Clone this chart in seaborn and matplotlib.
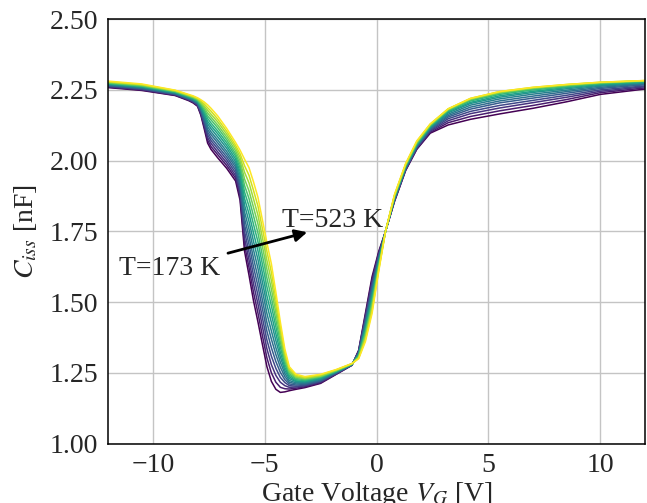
import numpy as np
import pandas as pd
import matplotlib
matplotlib.use("Agg")
import matplotlib.pyplot as plt
import seaborn as sns

# Gate voltage sample points [V]
vg = [-12, -10.5, -9, -8.4, -8.2, -8.0, -7.85, -7.7, -7.55, -7.4, -7.1, -6.7, -6.3,
      -6.1, -5.9, -5.7, -5.5, -5.3, -5.1, -4.9, -4.7, -4.5, -4.3, -4.1, -3.9, -3.6,
      -3.2, -2.5, -1.8, -1.1, -0.8, -0.5, -0.2, 0.1, 0.4, 0.8, 1.3, 1.8, 2.4, 3.2,
      4.2, 5.5, 7.0, 8.5, 10.0, 12.0]

temperatures = [173, 198, 223, 248, 273, 298, 323, 348, 373, 398, 423, 448, 473, 498, 523]

c173 = [2.258, 2.248, 2.230, 2.212, 2.204, 2.192, 2.160, 2.112, 2.062, 2.040, 2.010, 1.973, 1.928, 1.860, 1.680, 1.595, 1.505, 1.430, 1.350, 1.272, 1.220, 1.192, 1.181, 1.183, 1.187, 1.192, 1.198, 1.213, 1.245, 1.277, 1.330, 1.460, 1.590, 1.680, 1.750, 1.855, 1.965, 2.040, 2.097, 2.126, 2.146, 2.165, 2.185, 2.208, 2.234, 2.253]
c198 = [2.260, 2.250, 2.231, 2.214, 2.206, 2.194, 2.164, 2.119, 2.072, 2.050, 2.021, 1.983, 1.938, 1.873, 1.703, 1.622, 1.535, 1.461, 1.381, 1.303, 1.250, 1.217, 1.199, 1.194, 1.193, 1.196, 1.201, 1.215, 1.246, 1.277, 1.328, 1.453, 1.581, 1.675, 1.750, 1.857, 1.967, 2.042, 2.100, 2.134, 2.156, 2.176, 2.195, 2.216, 2.240, 2.257]
c223 = [2.261, 2.251, 2.233, 2.215, 2.208, 2.196, 2.168, 2.126, 2.081, 2.061, 2.031, 1.993, 1.947, 1.885, 1.726, 1.649, 1.565, 1.493, 1.413, 1.335, 1.279, 1.241, 1.217, 1.205, 1.199, 1.200, 1.204, 1.218, 1.247, 1.278, 1.326, 1.446, 1.571, 1.670, 1.750, 1.859, 1.969, 2.044, 2.104, 2.141, 2.166, 2.186, 2.205, 2.224, 2.245, 2.261]
c248 = [2.263, 2.253, 2.234, 2.217, 2.209, 2.198, 2.172, 2.132, 2.091, 2.071, 2.042, 2.003, 1.957, 1.898, 1.750, 1.676, 1.595, 1.524, 1.444, 1.366, 1.309, 1.266, 1.234, 1.216, 1.205, 1.203, 1.206, 1.220, 1.249, 1.278, 1.324, 1.439, 1.562, 1.665, 1.750, 1.860, 1.970, 2.046, 2.107, 2.148, 2.174, 2.195, 2.213, 2.231, 2.250, 2.264]
c273 = [2.265, 2.255, 2.235, 2.218, 2.211, 2.201, 2.176, 2.139, 2.101, 2.081, 2.052, 2.013, 1.967, 1.911, 1.773, 1.704, 1.625, 1.556, 1.476, 1.397, 1.339, 1.290, 1.252, 1.226, 1.211, 1.207, 1.209, 1.222, 1.250, 1.279, 1.321, 1.431, 1.553, 1.660, 1.750, 1.862, 1.972, 2.049, 2.110, 2.154, 2.182, 2.204, 2.221, 2.238, 2.255, 2.268]
c298 = [2.266, 2.256, 2.237, 2.220, 2.213, 2.203, 2.180, 2.146, 2.110, 2.092, 2.063, 2.023, 1.977, 1.923, 1.796, 1.731, 1.655, 1.587, 1.507, 1.428, 1.369, 1.315, 1.270, 1.237, 1.217, 1.211, 1.212, 1.224, 1.251, 1.279, 1.319, 1.424, 1.544, 1.655, 1.750, 1.864, 1.974, 2.051, 2.113, 2.159, 2.189, 2.211, 2.228, 2.244, 2.259, 2.271]
c323 = [2.268, 2.258, 2.238, 2.221, 2.215, 2.205, 2.184, 2.153, 2.120, 2.102, 2.073, 2.033, 1.986, 1.936, 1.819, 1.758, 1.685, 1.619, 1.539, 1.460, 1.398, 1.339, 1.288, 1.248, 1.223, 1.215, 1.215, 1.227, 1.252, 1.280, 1.317, 1.417, 1.534, 1.650, 1.750, 1.866, 1.976, 2.053, 2.115, 2.164, 2.196, 2.218, 2.235, 2.249, 2.263, 2.273]
c348 = [2.270, 2.260, 2.240, 2.223, 2.217, 2.207, 2.188, 2.160, 2.130, 2.113, 2.084, 2.044, 1.996, 1.949, 1.843, 1.785, 1.715, 1.650, 1.570, 1.491, 1.428, 1.364, 1.306, 1.259, 1.230, 1.219, 1.218, 1.229, 1.254, 1.280, 1.315, 1.410, 1.525, 1.645, 1.750, 1.868, 1.978, 2.055, 2.118, 2.169, 2.202, 2.224, 2.241, 2.254, 2.266, 2.276]
c373 = [2.271, 2.261, 2.241, 2.225, 2.218, 2.209, 2.191, 2.166, 2.139, 2.123, 2.095, 2.054, 2.006, 1.961, 1.866, 1.812, 1.745, 1.681, 1.601, 1.522, 1.457, 1.388, 1.323, 1.270, 1.236, 1.222, 1.220, 1.231, 1.255, 1.280, 1.313, 1.403, 1.516, 1.640, 1.750, 1.869, 1.979, 2.057, 2.120, 2.173, 2.206, 2.229, 2.245, 2.258, 2.269, 2.277]
c398 = [2.273, 2.263, 2.242, 2.226, 2.220, 2.211, 2.195, 2.173, 2.149, 2.133, 2.105, 2.064, 2.016, 1.974, 1.889, 1.839, 1.775, 1.713, 1.633, 1.554, 1.487, 1.413, 1.341, 1.281, 1.242, 1.226, 1.223, 1.234, 1.256, 1.281, 1.311, 1.396, 1.506, 1.635, 1.750, 1.871, 1.981, 2.059, 2.122, 2.176, 2.211, 2.234, 2.250, 2.261, 2.272, 2.279]
c423 = [2.274, 2.264, 2.244, 2.228, 2.222, 2.213, 2.199, 2.180, 2.158, 2.144, 2.116, 2.074, 2.025, 1.986, 1.912, 1.866, 1.805, 1.744, 1.664, 1.585, 1.516, 1.437, 1.359, 1.292, 1.248, 1.230, 1.226, 1.236, 1.257, 1.281, 1.309, 1.389, 1.497, 1.630, 1.750, 1.873, 1.983, 2.061, 2.124, 2.178, 2.214, 2.238, 2.253, 2.264, 2.273, 2.281]
c448 = [2.276, 2.266, 2.245, 2.229, 2.224, 2.216, 2.203, 2.187, 2.168, 2.154, 2.126, 2.084, 2.035, 1.999, 1.935, 1.893, 1.835, 1.776, 1.696, 1.616, 1.546, 1.462, 1.377, 1.302, 1.254, 1.234, 1.229, 1.238, 1.258, 1.282, 1.306, 1.381, 1.488, 1.625, 1.750, 1.875, 1.985, 2.064, 2.126, 2.180, 2.217, 2.240, 2.256, 2.266, 2.275, 2.282]
c473 = [2.278, 2.268, 2.246, 2.231, 2.225, 2.218, 2.207, 2.193, 2.178, 2.164, 2.137, 2.094, 2.045, 2.012, 1.959, 1.921, 1.865, 1.807, 1.727, 1.647, 1.576, 1.486, 1.394, 1.313, 1.260, 1.237, 1.231, 1.240, 1.260, 1.282, 1.304, 1.374, 1.479, 1.620, 1.750, 1.876, 1.986, 2.066, 2.127, 2.182, 2.218, 2.242, 2.257, 2.268, 2.276, 2.282]
c498 = [2.279, 2.269, 2.248, 2.232, 2.227, 2.220, 2.211, 2.200, 2.187, 2.175, 2.147, 2.104, 2.054, 2.024, 1.982, 1.948, 1.895, 1.839, 1.759, 1.679, 1.605, 1.511, 1.412, 1.324, 1.266, 1.241, 1.234, 1.243, 1.261, 1.283, 1.302, 1.367, 1.469, 1.615, 1.750, 1.878, 1.988, 2.068, 2.129, 2.183, 2.220, 2.244, 2.259, 2.269, 2.277, 2.283]
c523 = [2.281, 2.271, 2.249, 2.234, 2.229, 2.222, 2.215, 2.207, 2.197, 2.185, 2.158, 2.114, 2.064, 2.037, 2.005, 1.975, 1.925, 1.870, 1.790, 1.710, 1.635, 1.535, 1.430, 1.335, 1.272, 1.245, 1.237, 1.245, 1.262, 1.283, 1.300, 1.360, 1.460, 1.610, 1.750, 1.880, 1.990, 2.070, 2.130, 2.183, 2.220, 2.244, 2.259, 2.269, 2.277, 2.283]

curves = [c173, c198, c223, c248, c273, c298, c323, c348, c373, c398, c423, c448, c473, c498, c523]

xticks = [-10, -5, 0, 5, 10]
yticks = [1.00, 1.25, 1.50, 1.75, 2.00, 2.25, 2.50]

rows = []
for T, c in zip(temperatures, curves):
    for v, val in zip(vg, c):
        rows.append({"V": v, "C": val, "T": T})
df = pd.DataFrame(rows)

sns.set_style("white")
plt.rcParams["font.family"] = ["Liberation Serif", "DejaVu Serif"]
plt.rcParams["mathtext.fontset"] = "stix"
plt.rcParams["font.size"] = 20
plt.rcParams["axes.unicode_minus"] = True

fig = plt.figure(figsize=(6.47, 5.03), dpi=100)
ax = fig.add_axes([0.167, 0.118, 0.830, 0.844])

sns.lineplot(data=df, x="V", y="C", hue="T", palette="viridis",
             hue_norm=(173, 523), estimator=None, sort=False, units="T",
             linewidth=1.1, legend=False, ax=ax)

ax.set_xlim(-12, 12)
ax.set_ylim(1.0, 2.5)
ax.set_xticks(xticks)
ax.set_yticks(yticks)
ax.set_yticklabels([f"{t:.2f}" for t in yticks])
ax.grid(True, color="#c4c4c4", linewidth=1.0)
ax.set_axisbelow(True)
for s in ax.spines.values():
    s.set_color("black")
    s.set_linewidth(1.1)
ax.tick_params(axis="both", which="major", direction="out", length=4,
               width=1.0, color="black", labelsize=20, pad=3)

ax.set_xlabel(r"Gate Voltage $V_G$ [V]", fontsize=20, labelpad=1)
ax.set_ylabel(r"$C_{iss}$ [nF]", fontsize=20, labelpad=8)

ax.annotate("", xy=(-3.1, 1.747), xytext=(-6.64, 1.673),
            arrowprops=dict(arrowstyle="-|>", color="black", lw=2.0,
                            mutation_scale=18, shrinkA=0, shrinkB=0))
ax.text(-11.5, 1.596, "T=173 K", fontsize=20, ha="left", va="baseline")
ax.text(-4.22, 1.766, "T=523 K", fontsize=20, ha="left", va="baseline")

fig.savefig("out.png", dpi=100)
